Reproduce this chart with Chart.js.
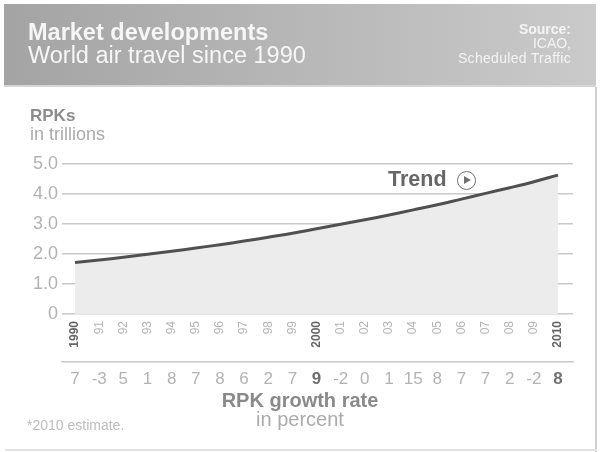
<!DOCTYPE html>
<html>
<head>
<meta charset="utf-8">
<script src="https://cdn.jsdelivr.net/npm/chart.js@4"></script>
<style>
  html, body { margin: 0; padding: 0; background: #fff; }
  body { width: 600px; height: 452px; position: relative; overflow: hidden;
         font-family: "Liberation Sans", Arial, sans-serif; }
  #chart { position: absolute; left: 0; top: 0; }
  .t { position: absolute; line-height: 1; white-space: nowrap; }
  #header { position: absolute; left: 4px; top: 4px; width: 592px; height: 81px;
            background: linear-gradient(to right, #a4a4a4, #cacaca);
            border-bottom: 2px solid #d6d6d6; }
  #frame-r { position: absolute; left: 595px; top: 87px; width: 2px; height: 365px; background: #cfcfcf; }
  #frame-b { position: absolute; left: 5px; top: 449px; width: 592px; height: 2px; background: #e2e2e2; }
  .circ { position: absolute; left: 457px; top: 171px; width: 17px; height: 17px;
          border: 1.8px solid #707070; border-radius: 50%; }
  .circ::after { content: ""; position: absolute; left: 6px; top: 4px;
                 border-left: 7px solid #707070; border-top: 4.5px solid transparent;
                 border-bottom: 4.5px solid transparent; }
</style>
</head>
<body>
<div id="header"></div>
<div id="frame-r"></div>
<div id="frame-b"></div>
<canvas id="chart" width="600" height="452"></canvas>

<div class="t" style="left:28px; top:21px; font-size:23.5px; font-weight:bold; color:#f6f6f6;">Market developments</div>
<div class="t" style="left:28px; top:44px; font-size:23.5px; color:#f6f6f6;">World air travel since 1990</div>
<div class="t" style="right:29px; top:22px; font-size:14px; font-weight:bold; color:#f4f4f4; text-align:right;">Source:</div>
<div class="t" style="right:29px; top:36px; font-size:14px; color:#f4f4f4; text-align:right;">ICAO,</div>
<div class="t" style="right:29px; top:51px; font-size:14px; letter-spacing:0.3px; color:#f4f4f4; text-align:right;">Scheduled Traffic</div>

<div class="t" style="left:30px; top:107px; font-size:17px; font-weight:bold; color:#8c8c8c;">RPKs</div>
<div class="t" style="left:30px; top:125px; font-size:18px; color:#ababab;">in trillions</div>

<div class="t" style="left:388px; top:169px; font-size:21.5px; font-weight:bold; color:#666;">Trend</div>
<div class="circ"></div>

<div class="t" style="left:200px; width:200px; text-align:center; top:390px; font-size:20px; font-weight:bold; color:#8a8a8a;">RPK growth rate</div>
<div class="t" style="left:200px; width:200px; text-align:center; top:409px; font-size:20px; color:#ababab;">in percent</div>
<div class="t" style="left:27px; top:418px; font-size:14px; color:#bdbdbd;">*2010 estimate.</div>

<script>
// Years on the x axis, RPKs (trillions), growth rates in percent
const years = [1990, 1991, 1992, 1993, 1994, 1995, 1996, 1997, 1998, 1999, 2000,
               2001, 2002, 2003, 2004, 2005, 2006, 2007, 2008, 2009, 2010];
const rpk = [1.72, 1.80, 1.89, 1.99, 2.09, 2.20, 2.31, 2.43, 2.56, 2.69, 2.84,
             2.99, 3.14, 3.30, 3.47, 3.64, 3.83, 4.02, 4.21, 4.41, 4.63];
const growth = ["7", "-3", "5", "1", "8", "7", "8", "6", "2", "7", "9",
                "-2", "0", "1", "15", "8", "7", "7", "2", "-2", "8"];
const yTicks = [0, 1, 2, 3, 4, 5];
const boldYears = [1990, 2000, 2010];
const boldGrowth = [2000, 2010];

const FONT = "'Liberation Sans', Arial, sans-serif";
const GRID = "#c9c9c9";

function yearTicks(scale) {
  scale.ticks = years.map((v) => ({ value: v }));
}

// scriptable options are also asked without a tick during fit
const inList = (c, list) => !!(c.tick && list.includes(c.tick.value));

new Chart(document.getElementById("chart"), {
  type: "line",
  data: {
    datasets: [{
      data: years.map((y, i) => ({ x: y, y: rpk[i] })),
      borderColor: "#505050",
      borderWidth: 3,
      backgroundColor: "#ececec",
      fill: "origin",
      tension: 0.4,
      pointRadius: 0
    }]
  },
  options: {
    responsive: false,
    animation: false,
    layout: { padding: { top: 164, left: 0, right: 27, bottom: 60 } },
    plugins: { legend: { display: false }, tooltip: { enabled: false } },
    scales: {
      y: {
        min: 0, max: 5,
        afterFit: (s) => { s.width = 62; },
        afterBuildTicks: (s) => { s.ticks = yTicks.map((v) => ({ value: v })); },
        grid: { color: GRID, lineWidth: 1.5, drawTicks: false },
        border: { display: false },
        ticks: {
          padding: 4,
          color: "#b3b3b3",
          font: { family: FONT, size: 18 },
          callback: (v) => (v === 0 ? "0" : v.toFixed(1))
        }
      },
      x: {
        type: "linear",
        min: 1989.46, max: 2010.62,
        afterFit: (s) => { s.height = 48; },
        afterBuildTicks: yearTicks,
        grid: { display: false, drawTicks: false },
        border: { display: false },
        ticks: {
          autoSkip: false,
          minRotation: 90, maxRotation: 90,
          padding: 7,
          color: (c) => (inList(c, boldYears) ? "#666" : "#b4b4b4"),
          font: (c) => ({ family: FONT, size: 12, weight: inList(c, boldYears) ? "bold" : "normal" }),
          callback: (v) => (v % 10 === 0 ? String(v) : String(v).slice(2))
        }
      },
      x2: {
        type: "linear",
        position: "bottom",
        weight: 1,
        min: 1989.46, max: 2010.62,
        afterFit: (s) => { s.height = 30; },
        afterBuildTicks: yearTicks,
        grid: { display: false, drawTicks: false },
        border: { display: true, color: GRID, width: 1.5 },
        ticks: {
          autoSkip: false,
          maxRotation: 0,
          padding: 7,
          color: (c) => (inList(c, boldGrowth) ? "#707070" : "#b3b3b3"),
          font: (c) => ({ family: FONT, size: 17, weight: inList(c, boldGrowth) ? "bold" : "normal" }),
          callback: (v) => growth[years.indexOf(v)]
        }
      }
    }
  }
});
</script>
</body>
</html>
